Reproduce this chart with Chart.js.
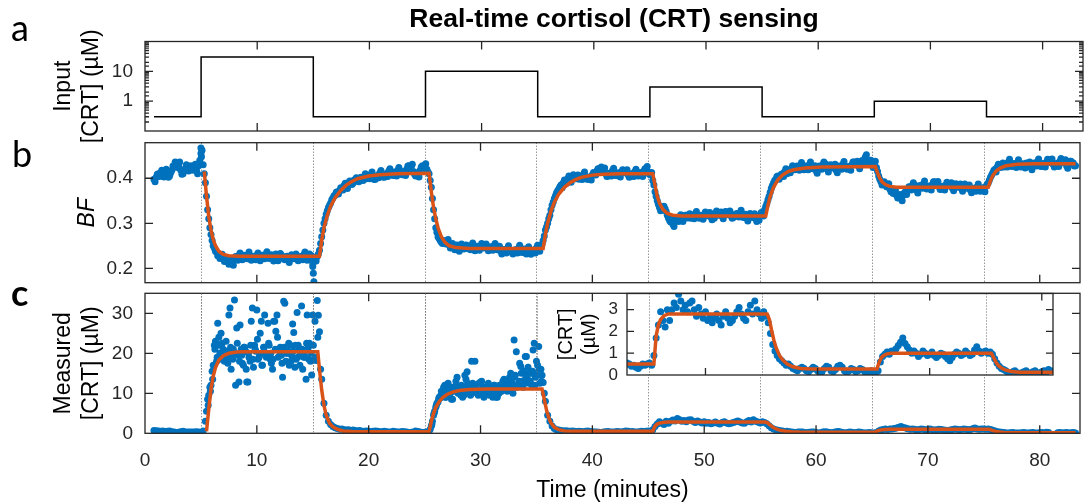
<!DOCTYPE html>
<html lang="en">
<head>
<meta charset="UTF-8">
<title>Real-time cortisol (CRT) sensing</title>
<script src="https://cdn.jsdelivr.net/npm/chart.js@4.4.1/dist/chart.umd.min.js"></script>
<style>
  body { margin: 0; background: #fff; }
  #wrap { position: relative; width: 1084px; height: 504px; overflow: hidden; font-family: "Liberation Sans", Arial, sans-serif; }
  #wrap canvas { position: absolute; left: 0; top: 0; }
  .letter { position: absolute; font-family: Lato, "Open Sans", sans-serif; font-size: 36px; line-height: 1; color: #000; }
  #title { position: absolute; left: 145px; width: 938px; top: 5px; text-align: center; font-weight: bold; font-size: 26.5px; line-height: 1; color: #000; }
</style>
</head>
<body>
<div id="wrap">
  <canvas id="panelA" width="1084" height="504"></canvas>
  <canvas id="panelB" width="1084" height="504"></canvas>
  <canvas id="panelC" width="1084" height="504"></canvas>
  <canvas id="inset" width="1084" height="504"></canvas>
  <div id="title">Real-time cortisol (CRT) sensing</div>
  <div class="letter" style="left:11px; top:9px;">a</div>
  <div class="letter" style="left:12px; top:135px;">b</div>
  <div class="letter" style="left:11px; top:274px; font-weight:bold;">c</div>
</div>
<script>
// step times of the input (minutes) and the input levels (uM)
const stepTimes = [5, 15, 25, 35, 45, 55, 65, 75];
const inputTimes = [0.8, 5, 15, 25, 35, 45, 55, 65, 75, 83.3];
const inputLevels = [0.3, 30, 0.3, 10, 0.3, 3, 0.3, 1, 0.3, 0.3];

// sensor readings, one every 0.2 min starting at 0.8 min
const T0 = 0.8, DT = 0.2;
const bfValues = [
  0.398,0.402,0.41,0.412,0.408,0.415,0.41,0.405,0.418,0.425,
  0.432,0.428,0.418,0.41,0.422,0.425,0.42,0.426,0.424,0.418,
  0.428,0.455,0.43,0.39,0.33,0.29,0.262,0.245,0.236,0.232,
  0.226,0.222,0.218,0.214,0.216,0.213,0.219,0.224,0.229,0.226,
  0.222,0.227,0.23,0.225,0.221,0.226,0.229,0.224,0.223,0.227,
  0.231,0.228,0.224,0.222,0.226,0.223,0.227,0.229,0.225,0.221,
  0.219,0.224,0.228,0.226,0.223,0.22,0.225,0.23,0.224,0.226,
  0.222,0.21,0.222,0.226,0.24,0.27,0.30,0.32,0.335,0.345,
  0.356,0.362,0.37,0.372,0.378,0.384,0.381,0.388,0.392,0.389,
  0.395,0.398,0.394,0.4,0.404,0.399,0.405,0.409,0.403,0.398,
  0.406,0.412,0.408,0.402,0.41,0.416,0.413,0.406,0.411,0.418,
  0.414,0.408,0.412,0.42,0.428,0.424,0.415,0.405,0.41,0.418,
  0.428,0.426,0.42,0.41,0.38,0.33,0.29,0.27,0.262,0.255,
  0.26,0.258,0.252,0.247,0.25,0.246,0.243,0.248,0.251,0.246,
  0.244,0.248,0.25,0.245,0.242,0.246,0.249,0.252,0.248,0.245,
  0.242,0.246,0.25,0.247,0.243,0.238,0.236,0.24,0.244,0.241,
  0.238,0.235,0.24,0.245,0.241,0.236,0.239,0.243,0.238,0.234,
  0.24,0.245,0.242,0.248,0.262,0.285,0.30,0.318,0.34,0.355,
  0.368,0.376,0.385,0.39,0.395,0.399,0.396,0.402,0.406,0.401,
  0.398,0.404,0.409,0.404,0.397,0.402,0.408,0.412,0.416,0.421,
  0.425,0.418,0.41,0.405,0.411,0.417,0.412,0.406,0.409,0.414,
  0.418,0.413,0.408,0.404,0.41,0.415,0.411,0.406,0.41,0.416,
  0.42,0.414,0.408,0.395,0.37,0.35,0.335,0.33,0.338,0.326,
  0.312,0.303,0.298,0.305,0.31,0.314,0.309,0.312,0.318,0.315,
  0.311,0.316,0.321,0.317,0.312,0.315,0.319,0.323,0.318,0.314,
  0.317,0.321,0.324,0.319,0.316,0.32,0.325,0.321,0.317,0.313,
  0.316,0.32,0.323,0.319,0.314,0.311,0.316,0.319,0.315,0.31,
  0.313,0.318,0.322,0.33,0.344,0.36,0.378,0.39,0.398,0.405,
  0.403,0.41,0.415,0.41,0.418,0.422,0.426,0.42,0.424,0.429,
  0.425,0.42,0.425,0.43,0.427,0.422,0.417,0.421,0.426,0.43,
  0.425,0.42,0.424,0.429,0.425,0.418,0.421,0.426,0.431,0.427,
  0.42,0.424,0.43,0.436,0.432,0.427,0.433,0.44,0.447,0.441,
  0.434,0.43,0.432,0.424,0.405,0.392,0.386,0.388,0.382,0.376,
  0.372,0.368,0.362,0.358,0.355,0.362,0.37,0.375,0.38,0.384,
  0.378,0.373,0.378,0.384,0.388,0.382,0.377,0.38,0.386,0.392,
  0.387,0.381,0.376,0.38,0.385,0.389,0.384,0.378,0.382,0.386,
  0.381,0.377,0.381,0.384,0.379,0.374,0.372,0.377,0.381,0.377,
  0.373,0.376,0.382,0.39,0.402,0.412,0.42,0.425,0.43,0.428,
  0.425,0.431,0.436,0.432,0.427,0.43,0.435,0.431,0.426,0.429,
  0.434,0.43,0.425,0.428,0.433,0.437,0.432,0.427,0.431,0.436,
  0.441,0.437,0.431,0.427,0.432,0.438,0.441,0.435,0.428,0.432,
  0.438,0.434,0.428
];
// the readings taken in between (0.9, 1.1, ... min)
const bfExtraStart = 0.9;
const bfExtra = [
  0.392,0.409,0.404,0.418,0.403,0.42,0.402,0.412,0.427,0.436,
  0.424,0.436,0.409,0.418,0.43,0.416,0.428,0.418,0.431,0.41,
  0.44,0.462,0.41,0.36,0.31,0.275,0.25,0.238,0.228,0.222,
  0.231,0.215,0.224,0.209,0.221,0.207,0.226,0.218,0.234,0.219,
  0.229,0.221,0.236,0.218,0.227,0.219,0.234,0.217,0.229,0.221,
  0.237,0.222,0.23,0.216,0.232,0.217,0.233,0.222,0.219,0.227,
  0.213,0.23,0.221,0.232,0.217,0.226,0.219,0.236,0.218,0.232,
  0.228,0.215,0.216,0.232,0.255,0.285,0.31,0.328,0.34,0.352,
  0.361,0.369,0.365,0.379,0.374,0.389,0.377,0.394,0.386,0.396,
  0.401,0.392,0.402,0.395,0.41,0.404,0.399,0.414,0.397,0.404,
  0.401,0.417,0.403,0.409,0.404,0.421,0.407,0.414,0.405,0.424,
  0.41,0.415,0.406,0.427,0.421,0.431,0.409,0.412,0.403,0.425,
  0.421,0.432,0.414,0.395,0.355,0.31,0.28,0.266,0.258,0.262,
  0.254,0.264,0.245,0.255,0.241,0.252,0.238,0.254,0.243,0.252,
  0.25,0.241,0.256,0.239,0.249,0.24,0.255,0.245,0.254,0.239,
  0.248,0.24,0.255,0.241,0.249,0.232,0.242,0.234,0.25,0.236,
  0.232,0.241,0.234,0.251,0.235,0.243,0.232,0.248,0.231,0.24,
  0.234,0.251,0.238,0.254,0.272,0.292,0.31,0.33,0.347,0.361,
  0.372,0.381,0.379,0.396,0.389,0.405,0.391,0.408,0.399,0.407,
  0.403,0.397,0.414,0.399,0.403,0.396,0.413,0.407,0.421,0.415,
  0.42,0.423,0.404,0.411,0.405,0.422,0.406,0.412,0.403,0.419,
  0.412,0.419,0.402,0.41,0.404,0.42,0.405,0.413,0.404,0.421,
  0.426,0.409,0.413,0.385,0.36,0.342,0.328,0.336,0.332,0.318,
  0.306,0.309,0.293,0.311,0.304,0.319,0.304,0.318,0.312,0.321,
  0.317,0.31,0.326,0.312,0.318,0.309,0.325,0.317,0.324,0.308,
  0.311,0.327,0.318,0.325,0.31,0.326,0.319,0.327,0.311,0.319,
  0.322,0.314,0.329,0.313,0.32,0.305,0.322,0.313,0.321,0.304,
  0.307,0.324,0.316,0.337,0.352,0.369,0.384,0.395,0.404,0.398,
  0.409,0.404,0.421,0.416,0.412,0.428,0.419,0.427,0.418,0.435,
  0.419,0.427,0.419,0.436,0.421,0.428,0.411,0.427,0.42,0.436,
  0.431,0.414,0.43,0.423,0.431,0.412,0.427,0.42,0.437,0.421,
  0.426,0.418,0.436,0.43,0.438,0.421,0.439,0.434,0.452,0.436,
  0.44,0.424,0.438,0.415,0.398,0.385,0.392,0.381,0.388,0.37,
  0.366,0.374,0.356,0.364,0.35,0.368,0.364,0.381,0.374,0.39,
  0.384,0.367,0.384,0.378,0.394,0.376,0.383,0.374,0.392,0.386,
  0.393,0.375,0.382,0.374,0.391,0.383,0.39,0.372,0.388,0.38,
  0.387,0.371,0.387,0.378,0.385,0.368,0.378,0.371,0.387,0.371,
  0.379,0.37,0.386,0.396,0.407,0.418,0.414,0.431,0.424,0.434,
  0.431,0.425,0.442,0.426,0.433,0.424,0.441,0.425,0.432,0.423,
  0.428,0.436,0.419,0.434,0.427,0.443,0.426,0.433,0.425,0.442,
  0.435,0.443,0.425,0.433,0.426,0.444,0.435,0.441,0.422,0.438,
  0.432,0.427
];
// stray readings right at the switching moments
const bfSpikeTimes = [5.0, 5.05, 15.0, 15.05, 15.1];
const bfSpikeValues = [0.467, 0.448, 0.204, 0.189, 0.17];

// fitted BF response
const bfFitTimes = [5.3,5.5,5.7,5.9,6.1,6.3,6.6,7.0,7.5,8.5,15.6,15.8,16.0,16.3,16.6,17.0,17.5,18.0,18.5,19.0,20.0,21.0,22.5,
  25.4,25.6,25.8,26.0,26.2,26.5,26.8,27.2,27.8,29.0,35.6,35.8,36.0,36.3,36.6,37.0,37.5,38.0,38.5,39.0,40.0,41.0,42.5,
  45.4,45.6,45.8,46.0,46.3,46.7,47.2,48.0,55.5,55.7,55.9,56.2,56.6,57.0,57.5,58.0,59.0,60.5,
  65.3,65.5,65.7,65.9,66.2,66.6,67.2,75.4,75.6,75.8,76.1,76.5,77.0,78.0,79.5,83.2];
const bfFitValues = [0.415,0.36,0.315,0.285,0.264,0.25,0.238,0.231,0.228,0.227,0.227,0.262,0.29,0.318,0.338,0.357,0.373,0.385,0.393,0.399,0.405,0.408,0.41,
  0.411,0.37,0.335,0.31,0.29,0.27,0.258,0.25,0.246,0.244,0.244,0.275,0.30,0.327,0.347,0.365,0.38,0.39,0.397,0.402,0.407,0.409,0.41,
  0.41,0.385,0.36,0.345,0.331,0.322,0.318,0.316,0.316,0.34,0.36,0.38,0.397,0.407,0.415,0.419,0.423,0.425,
  0.426,0.412,0.40,0.392,0.386,0.382,0.38,0.38,0.395,0.406,0.416,0.423,0.428,0.431,0.432,0.432];

// measured [CRT] (uM), same sampling as bfValues
const crtValues = [
  0.7,0.65,0.55,0.5,0.55,0.45,0.5,0.55,0.4,0.3,
  0.2,0.25,0.4,0.5,0.35,0.3,0.35,0.3,0.3,0.4,
  0.3,0.1,0.6,3.0,8.5,11.5,15.5,22,18,24,
  25,21,19,17.5,31.3,20,33.3,26.3,12.8,21,
  17,20.5,12.8,18,31.3,22,30.8,19,28,21.5,
  20,27.5,18.5,16,28,29.6,21,19.5,33,18,
  20.5,22,27.3,16.5,30.2,21,31.8,19,13.5,21.5,
  18,29.6,28,33.2,25.4,13.5,7.5,4.5,3.0,2.2,
  1.7,1.4,1.2,1.0,1.1,0.9,0.8,0.9,0.7,0.8,
  0.7,0.6,0.7,0.5,0.5,0.6,0.5,0.4,0.5,0.6,
  0.5,0.4,0.4,0.5,0.4,0.3,0.35,0.5,0.4,0.3,
  0.35,0.45,0.4,0.3,0.2,0.25,0.35,0.55,0.45,0.3,
  0.2,0.25,0.3,0.5,1.8,4.5,6.5,7.8,8.8,9.5,
  12,9.5,10.5,8.5,11.5,13,10,11,9,14.5,
  15.4,11,18,10.5,12,9.5,12.8,10,11.5,10.8,
  9.5,11.5,12,9,10,11.5,13,12.7,10.5,14,
  11,23.3,20.4,12,16.7,11.5,19.2,13.5,15,12,
  22.5,18,21.7,16,12.7,8,4.5,3.0,1.8,1.2,
  0.9,0.8,0.7,0.6,0.65,0.55,0.5,0.6,0.5,0.45,
  0.5,0.45,0.4,0.5,0.55,0.45,0.4,0.35,0.3,0.25,
  0.2,0.3,0.4,0.45,0.35,0.3,0.35,0.45,0.4,0.35,
  0.45,0.55,0.5,0.4,0.45,0.35,0.3,0.4,0.5,0.45,
  0.5,0.55,0.45,0.9,1.7,2.3,2.9,2.5,2.2,3.0,
  2.5,3.0,3.3,3.1,3.7,3.4,3.0,3.2,2.9,3.3,
  3.4,3.0,2.7,3.1,2.8,2.6,2.9,2.5,2.7,2.4,
  2.6,2.8,2.5,2.3,2.7,2.9,2.6,2.4,2.5,2.7,
  2.9,3.1,2.8,2.6,2.5,2.9,3.2,2.8,3.4,3.0,
  2.8,2.6,2.9,2.7,2.4,1.9,1.4,1.1,0.9,0.75,
  0.65,0.55,0.45,0.5,0.4,0.3,0.25,0.2,0.3,0.35,
  0.3,0.2,0.15,0.25,0.35,0.3,0.2,0.1,0.15,0.3,
  0.4,0.35,0.2,0.15,0.25,0.4,0.45,0.35,0.2,0.1,
  0.2,0.3,0.25,0.15,0.2,0.3,0.25,0.15,0.1,0.15,
  0.2,0.1,0.05,0.2,0.6,0.85,0.95,1.05,0.95,1.1,
  1.1,1.2,1.35,1.5,1.7,1.45,1.3,1.15,1.0,1.1,
  1.0,0.85,0.95,1.1,1.0,0.9,0.95,1.05,0.9,0.8,
  0.9,1.0,0.95,0.85,0.75,0.65,0.8,0.95,1.05,1.0,
  0.9,0.95,1.1,1.0,0.9,0.95,1.15,1.3,1.1,1.0,
  1.05,1.1,1.0,1.05,0.95,0.75,0.55,0.4,0.3,0.25,
  0.2,0.1,0.05,0.15,0.2,0.1,0.05,0.1,0.15,0.2,
  0.1,0.05,0.15,0.2,0.1,0.05,0.15,0.2,0.1,0.25,
  0.2,null,null,null,0.15,0.2,0.1,0.15,0.2,0.1,
  0.15,0.2,0.1
];
// extra readings during the two big pulses (each list every 0.2 min from its start)
const crtExtraStartA = 5.5;
const crtExtraA = [
  5.5,9.5,12,17,23,27.5,20,22.5,18,20.5,
  29.6,16,21,12,19.5,27.1,17.5,21.5,12.8,19,
  28,16.5,20.5,18.5,25,17,29.6,20,22,17.5,
  28,25.5,19,21.5,14,32.5,20,17,19.5,25.2,
  18.5,22,20,16,19,29.6,22.5,14.6,18.4,18.2,
  29.5,16
];
const crtExtraStartA2 = 5.65;
const crtExtraA2 = [
  7,10.5,13.5,21,19,22,18.5,20.5,23,19,
  21.5,18.5,20,22.5,18,19.5,21.5,16,20,22,
  18.5,21,23.5,19.5,17,21.5,19,22.5,20,18.5,
  21,24,19.5,17.5,21.5,20,22.5,18,20.5,22,
  19,17,21,19.5,22.5,18.5,20,22,19,24
];
const crtExtraStartB = 25.5;
const crtExtraB = [
  1,3,5.5,7.5,9,10.5,11.5,9,12.5,10,
  8.5,11,14,10.5,12,9.5,13.5,11,9.5,12.5,
  18,11,10,13,9,11.5,12.5,10.5,9,11,
  9,12,10.5,13.5,11.5,12.7,15,10,14.5,12,
  17.5,13,15.5,19.2,12.5,15,20.8,14,17,12.5,
  14.5,10
];
const crtExtraStartB2 = 25.65;
const crtExtraB2 = [
  2.2,5,7,8.5,9.5,10,9,11,10,11.5,
  10.5,12,11,9.5,11.5,10.5,12.5,11,10,12,
  11,12.5,10.5,11.5,10,12,11,10.5,12,11,
  10,11.5,12.5,11,13,11.5,12.5,14,11.5,13,
  15,12.5,14,16.5,13,15.5,12,14.5,16,13
];

// fitted [CRT] response
const crtFitTimes = [5.5,5.7,5.9,6.1,6.3,6.6,7.0,7.5,8.2,9.0,15.45,15.6,15.8,16.0,16.2,16.5,16.8,17.2,17.7,18.5,20.0,
  25.4,25.6,25.8,26.0,26.3,26.6,27.0,27.5,28.1,29.0,30.5,35.5,35.7,35.9,36.1,36.3,36.6,37.0,37.5,38.3,
  45.4,45.6,45.8,46.0,46.3,46.7,55.5,55.7,55.9,56.1,56.3,56.6,56.9,57.3,57.8,58.5,59.5,
  65.3,65.5,65.7,65.9,66.2,66.6,75.5,75.7,75.9,76.1,76.4,76.8,77.3,78.0,83.2];
const crtFitValues = [0.5,6,11,14.3,16.4,18.3,19.4,20.0,20.3,20.4,20.4,16,10.8,7,4.5,2.5,1.6,1.0,0.6,0.45,0.4,
  0.4,3.0,5.0,6.5,7.9,8.9,9.7,10.3,10.7,10.95,11.1,11.1,8.5,5.8,3.9,2.6,1.5,0.9,0.6,0.5,
  0.5,1.8,2.3,2.55,2.72,2.8,2.8,2.55,2.05,1.6,1.25,0.9,0.68,0.5,0.38,0.3,0.27,
  0.27,0.6,0.8,0.9,0.97,1.0,1.0,0.8,0.6,0.45,0.32,0.22,0.16,0.13,0.12];

const AXIS = '#262626';
const BLUE = '#0072BD';
const ORANGE = '#D95319';

Chart.defaults.font.family = '"Liberation Sans", Arial, sans-serif';
Chart.defaults.color = AXIS;

function sampled(t0, vals) {
  return vals.map((v, i) => ({x: +(t0 + i * DT).toFixed(2), y: v})).filter(p => p.y !== null);
}
function paired(ts, vs) {
  return ts.map((t, i) => ({x: t, y: vs[i]}));
}

// matlab-like box: inward ticks on all four sides, dotted switching lines
const boxAxes = {
  id: 'boxAxes',
  beforeDraw(chart, args, o) {
    if (!o.fill) return;
    const {ctx, chartArea: a} = chart;
    ctx.save();
    ctx.fillStyle = '#fff';
    ctx.fillRect(a.left, a.top, a.right - a.left, a.bottom - a.top);
    ctx.restore();
  },
  beforeDatasetsDraw(chart, args, o) {
    if (!o.dotted) return;
    const {ctx, chartArea: a, scales: {x}} = chart;
    ctx.save();
    ctx.strokeStyle = '#666';
    ctx.lineWidth = 1;
    ctx.setLineDash([1, 2]);
    o.dotted.forEach(t => {
      const px = Math.round(x.getPixelForValue(t)) + 0.5;
      ctx.beginPath();
      ctx.moveTo(px, a.top);
      ctx.lineTo(px, a.bottom);
      ctx.stroke();
    });
    ctx.restore();
  },
  afterDatasetsDraw(chart, args, o) {
    const {ctx, chartArea: a, scales: {x, y}} = chart;
    const len = o.tick || 8;
    ctx.save();
    ctx.strokeStyle = AXIS;
    ctx.lineWidth = 1.3;
    ctx.beginPath();
    x.ticks.forEach(tk => {
      if (tk.value <= x.min || tk.value >= x.max) return;
      const px = x.getPixelForValue(tk.value);
      ctx.moveTo(px, a.top); ctx.lineTo(px, a.top + len);
      ctx.moveTo(px, a.bottom); ctx.lineTo(px, a.bottom - len);
    });
    y.ticks.forEach(tk => {
      if (tk.value <= y.min || tk.value >= y.max) return;
      let l = len;
      if (o.log) {
        const e = Math.log10(tk.value);
        if (Math.abs(e - Math.round(e)) > 1e-6) l = len / 2;
      }
      const py = y.getPixelForValue(tk.value);
      ctx.moveTo(a.left, py); ctx.lineTo(a.left + l, py);
      ctx.moveTo(a.right, py); ctx.lineTo(a.right - l, py);
    });
    ctx.stroke();
    ctx.strokeRect(a.left, a.top, a.right - a.left, a.bottom - a.top);
    ctx.restore();
  }
};

function hiddenX(min, max, height) {
  return {
    type: 'linear', min: min, max: max,
    afterFit: s => { s.height = height; },
    ticks: {display: false, stepSize: 10, includeBounds: false},
    grid: {display: false, drawTicks: false},
    border: {display: false}
  };
}
function baseOptions(pad, scales, box) {
  return {
    responsive: false,
    animation: false,
    devicePixelRatio: 1,
    events: [],
    layout: {padding: pad},
    plugins: {legend: {display: false}, tooltip: {enabled: false}, boxAxes: box},
    scales: scales
  };
}
// dots drawn underneath (higher order), fit curve on top
function dots(data) {
  return {data: data, order: 2, pointRadius: 3.5, backgroundColor: BLUE, borderWidth: 0, clip: 0};
}
function fitLine(data) {
  return {data: data, order: 1, showLine: true, borderColor: ORANGE, borderWidth: 3.5, pointRadius: 0, clip: 0};
}

const tickFont = {size: 19};
const labelFont = {size: 23};

// a: input concentration (log axis)
new Chart(document.getElementById('panelA'), {
  type: 'scatter',
  data: {datasets: [{
    data: paired(inputTimes, inputLevels),
    showLine: true, stepped: true, borderColor: '#000', borderWidth: 1.5,
    pointRadius: 0, clip: 0
  }]},
  options: baseOptions({left: 0, right: 1, top: 41.5, bottom: 373}, {
    x: hiddenX(0, 83.6, 0),
    y: {
      type: 'logarithmic', min: 0.1, max: 100,
      afterFit: s => { s.width = 145; },
      ticks: {font: tickFont, padding: 12, autoSkip: false,
        callback: v => (Math.abs(v - 1) < 1e-9 || Math.abs(v - 10) < 1e-9) ? String(Math.round(v)) : ''},
      grid: {display: false, drawTicks: false},
      border: {display: false},
      title: {display: true, text: ['Input', '[CRT] (µM)'], font: labelFont, color: '#000', padding: {top: 50, bottom: 0}}
    }
  }, {log: true, tick: 8}),
  plugins: [boxAxes]
});

// b: bioluminescent fraction
new Chart(document.getElementById('panelB'), {
  type: 'scatter',
  data: {datasets: [
    dots(sampled(T0, bfValues).concat(sampled(bfExtraStart, bfExtra), paired(bfSpikeTimes, bfSpikeValues))),
    fitLine(paired(bfFitTimes, bfFitValues))
  ]},
  options: baseOptions({left: 0, right: 1, top: 142.7, bottom: 221.3}, {
    x: hiddenX(0, 83.6, 0),
    y: {
      type: 'linear', min: 0.168, max: 0.479,
      afterFit: s => { s.width = 145; },
      ticks: {font: tickFont, padding: 12, stepSize: 0.1, includeBounds: false, callback: v => v.toFixed(1)},
      grid: {display: false, drawTicks: false},
      border: {display: false},
      title: {display: true, text: 'BF', font: {size: 23, style: 'italic'}, color: '#000', padding: {top: 74, bottom: 0}}
    }
  }, {dotted: stepTimes, tick: 8}),
  plugins: [boxAxes]
});

// c: measured concentration
new Chart(document.getElementById('panelC'), {
  type: 'scatter',
  data: {datasets: [
    dots(sampled(T0, crtValues).concat(
      sampled(crtExtraStartA, crtExtraA), sampled(crtExtraStartA2, crtExtraA2),
      sampled(crtExtraStartB, crtExtraB), sampled(crtExtraStartB2, crtExtraB2))),
    fitLine(paired(crtFitTimes, crtFitValues))
  ]},
  options: baseOptions({left: 0, right: 1, top: 293.3, bottom: 0}, {
    x: {
      type: 'linear', min: 0, max: 83.6,
      afterFit: s => { s.height = 70.7; },
      ticks: {font: tickFont, padding: 16, stepSize: 10, includeBounds: false, maxRotation: 0},
      grid: {display: false, drawTicks: false},
      border: {display: false},
      title: {display: true, text: 'Time (minutes)', font: labelFont, color: '#000', padding: {top: 0, bottom: 0}}
    },
    y: {
      type: 'linear', min: 0, max: 35,
      afterFit: s => { s.width = 145; },
      ticks: {font: tickFont, padding: 12, stepSize: 10, includeBounds: false},
      grid: {display: false, drawTicks: false},
      border: {display: false},
      title: {display: true, text: ['Measured', '[CRT] (µM)'], font: labelFont, color: '#000', padding: {top: 50, bottom: 0}}
    }
  }, {dotted: stepTimes, tick: 8}),
  plugins: [boxAxes]
});

// inset: zoom on the low-concentration pulses
new Chart(document.getElementById('inset'), {
  type: 'scatter',
  data: {datasets: [
    dots(sampled(T0, crtValues)),
    fitLine(paired(crtFitTimes, crtFitValues))
  ]},
  options: baseOptions({left: 547, right: 31, top: 293.5, bottom: 129}, {
    x: hiddenX(43, 81, 0),
    y: {
      type: 'linear', min: 0, max: 3.74,
      afterFit: s => { s.width = 80; },
      ticks: {font: {size: 17}, padding: 9, stepSize: 1, includeBounds: false},
      grid: {display: false, drawTicks: false},
      border: {display: false},
      title: {display: true, text: ['[CRT]', '(µM)'], font: {size: 20, lineHeight: 1.15}, color: '#000', padding: {top: 7.5, bottom: 0}}
    }
  }, {dotted: stepTimes, tick: 7, fill: true}),
  plugins: [boxAxes]
});
</script>
</body>
</html>
